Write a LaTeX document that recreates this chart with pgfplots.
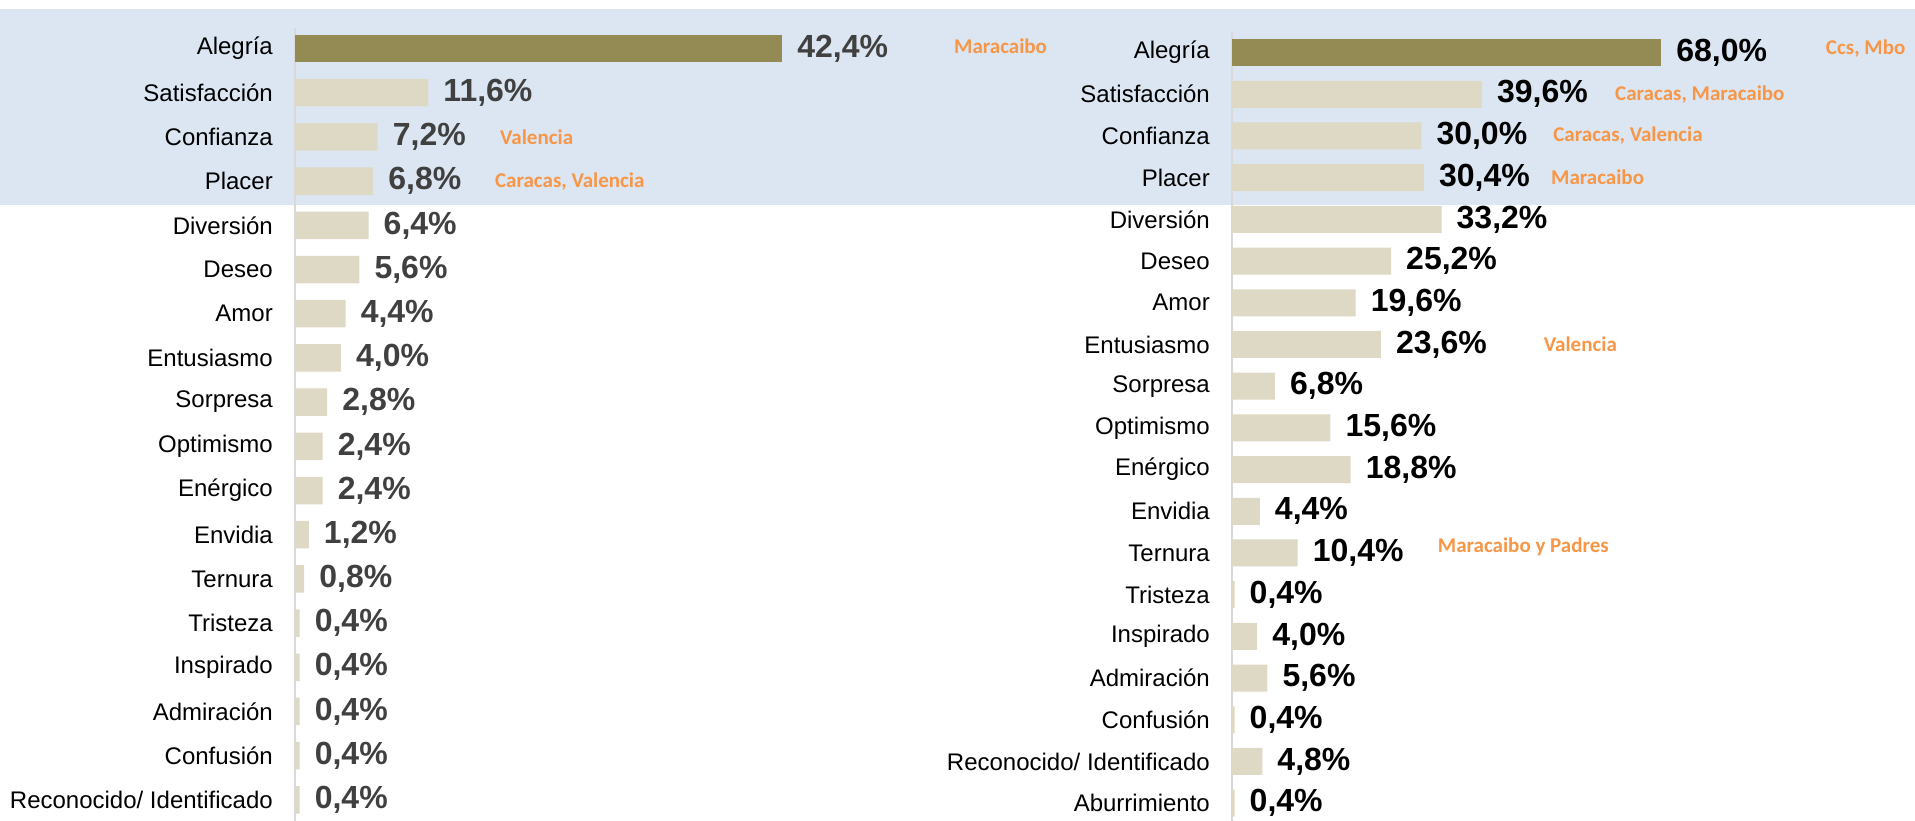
\documentclass[border=0pt]{standalone}
\usepackage{fontspec}
\setmainfont{Liberation Sans}
\newfontfamily\carlito{Carlito}
\usepackage{pgfplots}
\pgfplotsset{compat=1.18}
\definecolor{band}{HTML}{DCE6F2}
\definecolor{olivebar}{HTML}{948A54}
\definecolor{tanbar}{HTML}{DDD9C4}
\definecolor{orng}{HTML}{F79646}
\definecolor{axgray}{HTML}{D9D9D9}
\definecolor{lblgray}{HTML}{404040}
\pgfplotsset{
  mybar/.style={
    xbar, scale only axis, clip=false, enlargelimits=false,
    axis x line=none, axis y line*=left,
    y axis line style={axgray, line width=1.2pt, -},
    y dir=reverse, xmin=0, xtick=\empty,
    major tick length=0pt,
    yticklabel style={font=\fontsize{24}{28}\selectfont, anchor=east, inner sep=0pt, xshift=-22pt, text=black},
    /pgf/bar shift=0pt, bar width=27.5pt,
    point meta=x,
    nodes near coords={\pgfmathprintnumber{\pgfplotspointmeta}\%},
    nodes near coords style={anchor=west, inner sep=0pt, xshift=15pt, font=\fontsize{32}{38}\selectfont\bfseries},
    /pgf/number format/fixed, /pgf/number format/fixed zerofill, /pgf/number format/precision=1,
    /pgf/number format/use comma, /pgf/number format/assume math mode=true,
  },
}
\tikzset{orlab/.style={anchor=west, inner sep=0pt, text=orng, font=\carlito\bfseries\fontsize{21}{25}\selectfont}}
\begin{document}
\begin{tikzpicture}
\path[use as bounding box] (0pt,0pt) rectangle (1915pt,-821pt);
\fill[band] (0pt,-9pt) rectangle (1915pt,-205pt);
% Left chart
\begin{axis}[mybar, at={(295pt,-28pt)}, anchor=north west,
  width=574.5pt, height=793.1pt, xmax=50, ymin=-0.464, ymax=17.48,
  ytick={0,...,17},
  yticklabels={Alegría,Satisfacción,Confianza,Placer,Diversión,Deseo,Amor,Entusiasmo,Sorpresa,Optimismo,Enérgico,Envidia,Ternura,Tristeza,Inspirado,Admiración,Confusión,Reconocido/ Identificado},
  nodes near coords style={text=lblgray}]
\addplot[fill=olivebar, draw=none] coordinates {(42.4,0)};
\addplot[fill=tanbar, draw=none] coordinates {
(11.6,1) (7.2,2) (6.8,3) (6.4,4) (5.6,5) (4.4,6) (4.0,7) (2.8,8) (2.4,9)
(2.4,10) (1.2,11) (0.8,12) (0.4,13) (0.4,14) (0.4,15) (0.4,16) (0.4,17)};
\node[orlab] at (axis cs:57.35,-0.05) {Maracaibo};
\node[orlab] at (axis cs:17.84,2) {Valencia};
\node[orlab] at (axis cs:17.4,3) {Caracas, Valencia};
\end{axis}
% Right chart
\begin{axis}[mybar, at={(1232pt,-31.7pt)}, anchor=north west,
  width=631pt, height=789.4pt, xmax=100, ymin=-0.5, ymax=18.43,
  ytick={0,...,18},
  yticklabels={Alegría,Satisfacción,Confianza,Placer,Diversión,Deseo,Amor,Entusiasmo,Sorpresa,Optimismo,Enérgico,Envidia,Ternura,Tristeza,Inspirado,Admiración,Confusión,Reconocido/ Identificado,Aburrimiento},
  bar width=27pt,
  nodes near coords style={text=black}]
\addplot[fill=olivebar, draw=none] coordinates {(68.0,0)};
\addplot[fill=tanbar, draw=none] coordinates {
(39.6,1) (30.0,2) (30.4,3) (33.2,4) (25.2,5) (19.6,6) (23.6,7) (6.8,8) (15.6,9)
(18.8,10) (4.4,11) (10.4,12) (0.4,13) (4.0,14) (5.6,15) (0.4,16) (4.8,17) (0.4,18)};
\node[orlab] at (axis cs:94.1,-0.1) {Ccs, Mbo};
\node[orlab] at (axis cs:60.7,1) {Caracas, Maracaibo};
\node[orlab] at (axis cs:50.9,2) {Caracas, Valencia};
\node[orlab] at (axis cs:50.55,3) {Maracaibo};
\node[orlab] at (axis cs:49.4,7) {Valencia};
\node[orlab] at (axis cs:32.6,11.85) {Maracaibo y Padres};
\end{axis}
\end{tikzpicture}
\end{document}
